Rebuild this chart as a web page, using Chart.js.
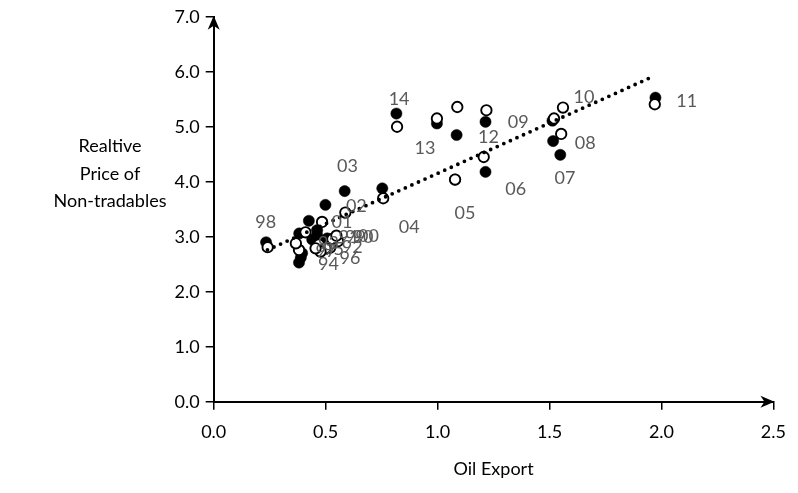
<!DOCTYPE html>
<html>
<head>
<meta charset="utf-8">
<script src="https://cdn.jsdelivr.net/npm/chart.js@4/dist/chart.umd.min.js"></script>
<style>
  html, body { margin: 0; padding: 0; background: #ffffff; }
  #wrap { width: 798px; height: 493px; position: relative; }
  canvas { display: block; }
</style>
</head>
<body>
<div id="wrap"><canvas id="chart" width="798" height="493"></canvas></div>
<script>
// Year labels, 1990 to 2014
const yearLabels = ['90','91','92','93','94','95','96','97','98','99','00','01','02',
                    '03','04','05','06','07','08','09','10','11','12','13','14'];

// Filled markers: oil export vs. relative price of non-tradables
const oilExportFilled = [0.536, 0.462, 0.507, 0.382, 0.389, 0.381, 0.395, 0.440, 0.234, 0.520,
                         0.462, 0.425, 0.499, 0.585, 0.753, 1.078, 1.214, 1.548, 1.516, 1.085,
                         1.513, 1.973, 1.214, 0.997, 0.816];
const priceFilled     = [2.94, 3.12, 2.97, 3.06, 2.62, 2.53, 2.70, 2.95, 2.90, 2.92,
                         3.03, 3.29, 3.58, 3.83, 3.88, 4.04, 4.18, 4.49, 4.74, 4.85,
                         5.11, 5.53, 5.09, 5.06, 5.24];

// Open markers
const oilExportOpen = [0.555, 0.470, 0.520, 0.499, 0.477, 0.455, 0.381, 0.367, 0.241, 0.530,
                       0.548, 0.484, 0.588, 0.410, 0.757, 1.078, 1.206, 1.520, 1.552, 1.088,
                       1.560, 1.970, 1.218, 0.997, 0.819];
const priceOpen     = [2.92, 2.86, 2.80, 2.79, 2.73, 2.79, 2.76, 2.88, 2.81, 2.96,
                       3.02, 3.27, 3.44, 3.08, 3.70, 4.04, 4.45, 5.15, 4.87, 5.36,
                       5.35, 5.41, 5.30, 5.15, 5.00];

// Linear trend, end points
const trendX = [0.24, 1.965];
const trendY = [2.76, 5.92];

// Axis ticks
const xTicks = [0.0, 0.5, 1.0, 1.5, 2.0, 2.5];
const yTicks = [0, 1, 2, 3, 4, 5, 6, 7];

// Pixel offsets of each year label from its open marker
const labelOffsets = [
  [25,-4],[30,-7],[22,-1],[3,-5],[8,13],[18,1],[51,8],[30,8],[-2,-25],[23,-2],
  [32,1],[20,0],[11,-6],[42,-66],[26,29],[10,34],[32,32],[11,60],[24,9],[61,15],
  [21,-10],[32,-3],[2,27],[-12,30],[2,-28]
];

const FONT = 'Lato, "Open Sans", sans-serif';

const toPoints = (xs, ys) => xs.map((x, i) => ({ x: x, y: ys[i] }));

const axisDecor = {
  id: 'axisDecor',
  afterDatasetsDraw(chart) {
    const ctx = chart.ctx;
    // year labels beside the open markers
    const meta = chart.getDatasetMeta(1);
    ctx.save();
    ctx.font = '18px ' + FONT;
    ctx.fillStyle = '#595959';
    ctx.textAlign = 'center';
    ctx.textBaseline = 'middle';
    meta.data.forEach((pt, i) => {
      const off = labelOffsets[i];
      ctx.fillText(yearLabels[i], pt.x + off[0], pt.y + off[1]);
    });
    ctx.restore();
  },
  afterDraw(chart) {
    const ctx = chart.ctx;
    const area = chart.chartArea;
    ctx.save();
    ctx.fillStyle = '#000';
    // x axis arrow head
    const xr = area.right + 1, yb = area.bottom;
    ctx.beginPath();
    ctx.moveTo(xr, yb);
    ctx.lineTo(xr - 14, yb - 6);
    ctx.lineTo(xr - 10, yb);
    ctx.lineTo(xr - 14, yb + 6);
    ctx.closePath();
    ctx.fill();
    // y axis arrow head
    const xl = area.left, yt = area.top - 1;
    ctx.beginPath();
    ctx.moveTo(xl, yt);
    ctx.lineTo(xl - 6, yt + 14);
    ctx.lineTo(xl, yt + 10);
    ctx.lineTo(xl + 6, yt + 14);
    ctx.closePath();
    ctx.fill();
    // axis titles
    ctx.font = '18px ' + FONT;
    ctx.textAlign = 'center';
    ctx.textBaseline = 'middle';
    ctx.fillText('Realtive', 110, 146);
    ctx.fillText('Price of', 110, 174);
    ctx.fillText('Non-tradables', 110, 201);
    ctx.fillText('Oil Export', (area.left + area.right) / 2, 469);
    ctx.restore();
  }
};

new Chart(document.getElementById('chart'), {
  type: 'scatter',
  data: {
    datasets: [
      {
        label: 'Trend',
        data: toPoints(trendX, trendY),
        showLine: true,
        borderColor: '#000',
        borderWidth: 3.8,
        borderDash: [0, 7.2],
        borderCapStyle: 'round',
        pointRadius: 0,
        fill: false
      },
      {
        label: 'Open',
        data: toPoints(oilExportOpen, priceOpen),
        pointRadius: 5.2,
        pointBorderWidth: 1.9,
        pointBackgroundColor: '#fff',
        pointBorderColor: '#000'
      },
      {
        label: 'Filled',
        data: toPoints(oilExportFilled, priceFilled),
        pointRadius: 5.6,
        pointBorderWidth: 0.5,
        pointBackgroundColor: '#000',
        pointBorderColor: '#000'
      }
    ]
  },
  options: {
    responsive: false,
    animation: false,
    devicePixelRatio: 1,
    layout: { padding: { top: 16.7, right: 18.6, left: 0, bottom: 0 } },
    plugins: { legend: { display: false }, tooltip: { enabled: false } },
    scales: {
      x: {
        type: 'linear',
        min: 0, max: 2.5,
        afterBuildTicks(scale) { scale.ticks = xTicks.map(v => ({ value: v })); },
        afterFit(scale) { scale.height = 91.3; },
        grid: { drawOnChartArea: false, drawTicks: true, tickLength: 8, color: '#000', lineWidth: 1.5 },
        border: { display: true, color: '#000', width: 2 },
        ticks: { color: '#000', font: { family: FONT, size: 18 }, padding: 12, maxRotation: 0,
                 callback: v => Number(v).toFixed(1) }
      },
      y: {
        type: 'linear',
        min: 0, max: 7,
        afterBuildTicks(scale) { scale.ticks = yTicks.map(v => ({ value: v })); },
        afterFit(scale) { scale.width = 213.7; },
        grid: { drawOnChartArea: false, drawTicks: true, tickLength: 8, color: '#000', lineWidth: 1.5 },
        border: { display: true, color: '#000', width: 2 },
        ticks: { color: '#000', font: { family: FONT, size: 18 }, padding: 6,
                 callback: v => Number(v).toFixed(1) }
      }
    }
  },
  plugins: [axisDecor]
});
</script>
</body>
</html>
